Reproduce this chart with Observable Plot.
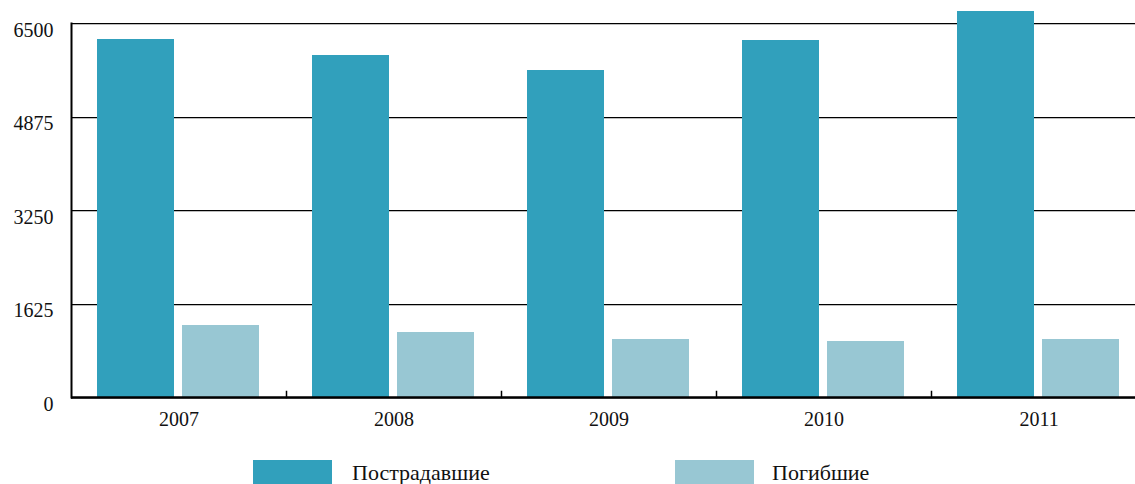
<!DOCTYPE html>
<html>
<head>
<meta charset="utf-8">
<script src="https://cdn.jsdelivr.net/npm/d3@7"></script>
<script src="https://cdn.jsdelivr.net/npm/@observablehq/plot@0.6"></script>
<style>
  html, body { margin: 0; padding: 0; background: #fff; overflow: hidden; }
  #wrap { position: relative; width: 1135px; height: 484px; font-family: "Liberation Serif", "Times New Roman", serif; }
  #chart svg { display: block; overflow: hidden; }
  .sw { position: absolute; width: 79px; height: 26px; }
  .lb { position: absolute; font-size: 22px; line-height: 26px; color: #111; white-space: nowrap; }
</style>
</head>
<body>
<div id="wrap">
  <div id="chart"></div>
  <div id="legend"></div>
</div>
<script>
const years = ["2007", "2008", "2009", "2010", "2011"];
const seriesNames = ["Пострадавшие", "Погибшие"];
const injured = [6220, 5945, 5685, 6205, 6710];
const killed = [1250, 1130, 1010, 975, 1010];
const yTicks = [0, 1625, 3250, 4875, 6500];
const colors = ["#31a0bc", "#98c7d3"];

const rows = [];
years.forEach((y, i) => {
  rows.push({year: y, series: seriesNames[0], value: injured[i]});
  rows.push({year: y, series: seriesNames[1], value: killed[i]});
});

const W = 1135, H = 440, ML = 70, MT = 23, MB = 43;
const plotRight = 1147; // last category runs past the cut edge of the picture

const chart = Plot.plot({
  width: W,
  height: H,
  marginLeft: ML,
  marginRight: 0,
  marginTop: MT,
  marginBottom: MB,
  style: {fontFamily: "'Liberation Serif', 'Times New Roman', serif", fontSize: "20px", color: "#111", background: "#fff", overflow: "hidden"},
  fx: {domain: years, range: [ML, plotRight], padding: 0, label: null, axis: null},
  x: {domain: seriesNames, paddingInner: 0.093, paddingOuter: 0.2995, axis: null},
  y: {domain: [0, 6500], axis: null},
  color: {domain: seriesNames, range: colors},
  marks: [
    Plot.gridY(yTicks, {stroke: "#bdbdbd", strokeOpacity: 1, strokeWidth: 1, dy: 1, shapeRendering: "crispEdges"}),
    Plot.gridY(yTicks, {stroke: "#000", strokeOpacity: 1, strokeWidth: 1, shapeRendering: "crispEdges"}),
    Plot.barY(rows, {fx: "year", x: "series", y: "value", fill: "series", shapeRendering: "crispEdges"}),
    Plot.frame({anchor: "right", insetTop: H - MT - MB - 6, stroke: "#000", strokeWidth: 1.5}),
    Plot.ruleY([0], {stroke: "#000", strokeWidth: 2.5}),
    Plot.frame({anchor: "left", facet: "super", stroke: "#000", strokeWidth: 2}),
    Plot.axisY(yTicks, {tickSize: 0, tickPadding: 18, dy: 7, fontSize: 20, label: null, tickFormat: d => String(d)}),
    Plot.axisFx({anchor: "bottom", tickSize: 0, tickPadding: 14, fontSize: 20, label: null})
  ]
});
document.getElementById("chart").appendChild(chart);

// legend below the SVG
const legend = document.getElementById("legend");
const legendPos = [{sw: 253, lb: 352}, {sw: 675, lb: 772}];
seriesNames.forEach((name, i) => {
  const s = document.createElement("div");
  s.className = "sw";
  s.style.left = legendPos[i].sw + "px";
  s.style.top = "460px";
  s.style.background = colors[i];
  legend.appendChild(s);
  const t = document.createElement("div");
  t.className = "lb";
  t.style.left = legendPos[i].lb + "px";
  t.style.top = "460px";
  t.textContent = name;
  legend.appendChild(t);
});
</script>
</body>
</html>
